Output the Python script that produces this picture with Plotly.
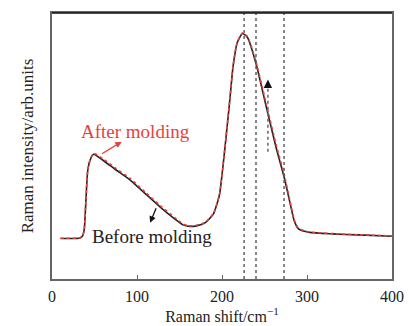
import plotly.graph_objects as go

# Raman shift (cm^-1) and intensities (arb. units)
shift = [10, 33, 36, 38, 40, 42, 45, 49, 60, 75, 92, 110, 127, 145, 154, 162, 170, 180,
         190, 197, 203, 209, 213, 218, 224, 230, 240, 252, 264, 273, 280, 285, 290,
         303, 330, 360, 400]
before = [40.4, 41, 43, 50, 80, 108, 119, 124.5, 118.5, 109, 98.7, 85, 72, 59.5, 54, 52.5, 53, 56,
          65, 84, 127, 177, 212, 236, 245, 241, 215, 172, 130, 102, 76, 58, 50,
          46.5, 45, 44, 42.7]
after = [40.6, 41.2, 43, 50, 80, 108, 119.5, 125.5, 120, 110.5, 100.3, 86.5, 73.5, 61, 55, 53, 53.5, 56.5,
         65.5, 84.5, 127.5, 177.5, 212.5, 236.5, 245.5, 242, 217, 175, 133, 105, 78, 59, 50.5,
         47, 45.3, 44.2, 43]
ref_lines = [226, 240, 273]
xticks = [0, 100, 200, 300, 400]

font = "Liberation Serif"
fig = go.Figure()
fig.add_trace(go.Scatter(x=shift, y=before, mode="lines",
                         line=dict(color="#222222", width=1.6, shape="spline", smoothing=0.5),
                         showlegend=False))
fig.add_trace(go.Scatter(x=shift, y=after, mode="lines",
                         line=dict(color="#e8413c", width=1.6, dash="dot", shape="spline", smoothing=0.5),
                         showlegend=False))

for xv in ref_lines:
    fig.add_shape(type="line", x0=xv, x1=xv, y0=0, y1=1, yref="paper", xref="x",
                  line=dict(color="#555555", width=1.4, dash="dot"))

# top border
fig.add_shape(type="line", x0=0, x1=1, y0=1, y1=1, xref="paper", yref="paper",
              line=dict(color="#111111", width=1.6))

# vertical dashed arrow
fig.add_shape(type="line", x0=254, x1=254, y0=127, y1=193, xref="x", yref="y",
              line=dict(color="#666666", width=1.5, dash="dot"))
fig.add_annotation(x=254, y=199, ax=254, ay=190, axref="x", ayref="y", xref="x", yref="y",
                   text="", showarrow=True, arrowhead=2, arrowsize=1.2, arrowwidth=1.4,
                   arrowcolor="#111111")

# labels with arrows
fig.add_annotation(x=82, y=137, ax=57, ay=124, axref="x", ayref="y", xref="x", yref="y",
                   text="", showarrow=True, arrowhead=2, arrowsize=1, arrowwidth=1.3,
                   arrowcolor="#e8413c")
fig.add_annotation(x=98.6, y=147, xref="x", yref="y", text="After molding", showarrow=False,
                   font=dict(family=font, size=19, color="#e8413c"))
fig.add_annotation(x=115.4, y=56, ax=123.2, ay=72, axref="x", ayref="y", xref="x", yref="y",
                   text="", showarrow=True, arrowhead=2, arrowsize=1, arrowwidth=1.3,
                   arrowcolor="#111111")
fig.add_annotation(x=117.4, y=42, xref="x", yref="y", text="Before molding", showarrow=False,
                   font=dict(family=font, size=19, color="#222222"))

fig.update_layout(
    width=409, height=326,
    margin=dict(l=52, r=17, t=13, b=47, autoexpand=False),
    paper_bgcolor="white", plot_bgcolor="white",
    font=dict(family=font, size=17, color="#222222"),
    xaxis=dict(range=[0, 400], tickvals=xticks, ticks="inside", ticklen=4, tickcolor="#666666",
               showline=True, linecolor="#666666", linewidth=2, mirror=True, showgrid=False,
               zeroline=False, tickfont=dict(size=16), ticklabelstandoff=2, automargin=False,
               title=dict(text="Raman shift/cm<sup>−1</sup>", standoff=4,
                          font=dict(size=16))),
    yaxis=dict(range=[0, 265.4], showticklabels=False, ticks="", showline=True,
               linecolor="#666666", linewidth=2, mirror=True, showgrid=False, zeroline=False,
               automargin=False,
               title=dict(text="Raman intensity/arb.units", standoff=12, font=dict(size=17))),
)
fig.write_html("out.html")
